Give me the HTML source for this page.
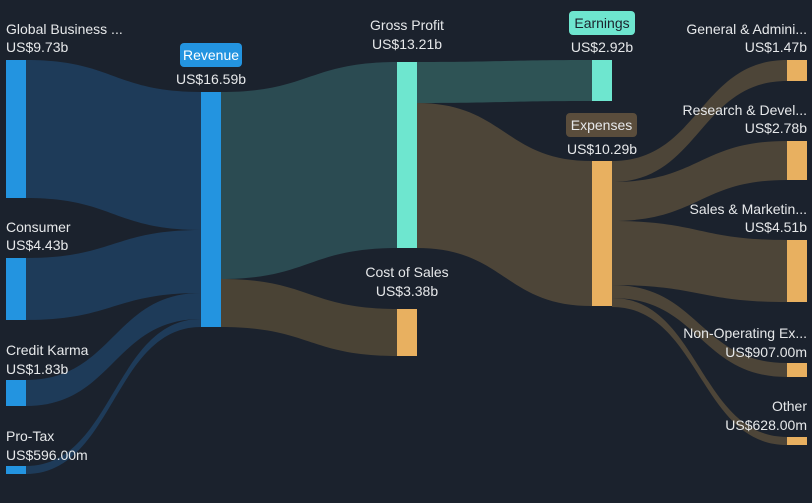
<!DOCTYPE html>
<html><head><meta charset="utf-8"><style>
body{margin:0;background:#1b222d;}
svg{display:block}
text{font-family:"Liberation Sans",sans-serif;font-size:14px;fill:#e6e8ea}
</style></head><body>
<svg width="812" height="503" viewBox="0 0 812 503" xmlns="http://www.w3.org/2000/svg">
<rect width="812" height="503" fill="#1b222d"/>
<g fill="#1f3d5c" opacity="0.95">
<path d="M26,60 C113.5,60 113.5,92 201,92 L201,230 C113.5,230 113.5,198 26,198 Z"/>
<path d="M26,258 C113.5,258 113.5,230 201,230 L201,293 C113.5,293 113.5,320 26,320 Z"/>
<path d="M26,380 C113.5,380 113.5,293 201,293 L201,319 C113.5,319 113.5,406 26,406 Z"/>
<path d="M26,466 C113.5,466 113.5,319 201,319 L201,327 C113.5,327 113.5,474 26,474 Z"/>
</g>
<path fill="#2b4b52" d="M221,92 C309,92 309,62 397,62 L397,248 C309,248 309,279 221,279 Z"/>
<path fill="#4a4335" d="M221,279 C309,279 309,309 397,309 L397,356 C309,356 309,327 221,327 Z"/>
<path fill="#2e5355" d="M417,62 C504.5,62 504.5,60 592,60 L592,101 C504.5,101 504.5,103 417,103 Z"/>
<path fill="#4d4538" d="M417,103 C504.5,103 504.5,161 592,161 L592,306 C504.5,306 504.5,248 417,248 Z"/>
<g fill="#4d4538">
<path d="M612,161 C699.5,161 699.5,60 787,60 L787,81 C699.5,81 699.5,182 612,182 Z"/>
<path d="M612,182 C699.5,182 699.5,141 787,141 L787,180 C699.5,180 699.5,221 612,221 Z"/>
<path d="M612,221 C699.5,221 699.5,240 787,240 L787,302 C699.5,302 699.5,285 612,285 Z"/>
<path d="M612,285 C699.5,285 699.5,363 787,363 L787,377 C699.5,377 699.5,298 612,298 Z"/>
<path d="M612,298 C699.5,298 699.5,437 787,437 L787,445 C699.5,445 699.5,307 612,307 Z"/>
</g>
<g fill="#2394e0">
<rect x="6" y="60" width="20" height="138"/>
<rect x="6" y="258" width="20" height="62"/>
<rect x="6" y="380" width="20" height="26"/>
<rect x="6" y="466" width="20" height="8"/>
<rect x="201" y="92" width="20" height="235"/>
</g>
<g fill="#6ee6cf">
<rect x="397" y="62" width="20" height="186"/>
<rect x="592" y="60" width="20" height="41"/>
</g>
<g fill="#e8b060">
<rect x="397" y="309" width="20" height="47"/>
<rect x="592" y="161" width="20" height="145"/>
<rect x="787" y="60" width="20" height="21"/>
<rect x="787" y="141" width="20" height="39"/>
<rect x="787" y="240" width="20" height="62"/>
<rect x="787" y="363" width="20" height="14"/>
<rect x="787" y="437" width="20" height="8"/>
</g>
<text x="6" y="34">Global Business ...</text><text x="6" y="52">US$9.73b</text>
<text x="6" y="232">Consumer</text><text x="6" y="250">US$4.43b</text>
<text x="6" y="355">Credit Karma</text><text x="6" y="374">US$1.83b</text>
<text x="6" y="441">Pro-Tax</text><text x="6" y="460">US$596.00m</text>
<rect x="180" y="43" width="62" height="24" rx="4" fill="#2394e0"/>
<text x="211" y="60" text-anchor="middle" style="fill:#fff">Revenue</text>
<text x="211" y="84" text-anchor="middle">US$16.59b</text>
<text x="407" y="30" text-anchor="middle">Gross Profit</text><text x="407" y="49" text-anchor="middle">US$13.21b</text>
<text x="407" y="277" text-anchor="middle">Cost of Sales</text><text x="407" y="296" text-anchor="middle">US$3.38b</text>
<rect x="569" y="11" width="66" height="24" rx="4" fill="#6ee6cf"/>
<text x="602" y="28" text-anchor="middle" style="fill:#1b222d">Earnings</text>
<text x="602" y="52" text-anchor="middle">US$2.92b</text>
<rect x="566" y="113" width="71" height="24" rx="4" fill="#5a4d3c"/>
<text x="601.5" y="130" text-anchor="middle">Expenses</text>
<text x="602" y="154" text-anchor="middle">US$10.29b</text>
<g text-anchor="end">
<text x="807" y="34">General &amp; Admini...</text><text x="807" y="52">US$1.47b</text>
<text x="807" y="115">Research &amp; Devel...</text><text x="807" y="133">US$2.78b</text>
<text x="807" y="214">Sales &amp; Marketin...</text><text x="807" y="232">US$4.51b</text>
<text x="807" y="338">Non-Operating Ex...</text><text x="807" y="357">US$907.00m</text>
<text x="807" y="411">Other</text><text x="807" y="430">US$628.00m</text>
</g>
</svg>
</body></html>
